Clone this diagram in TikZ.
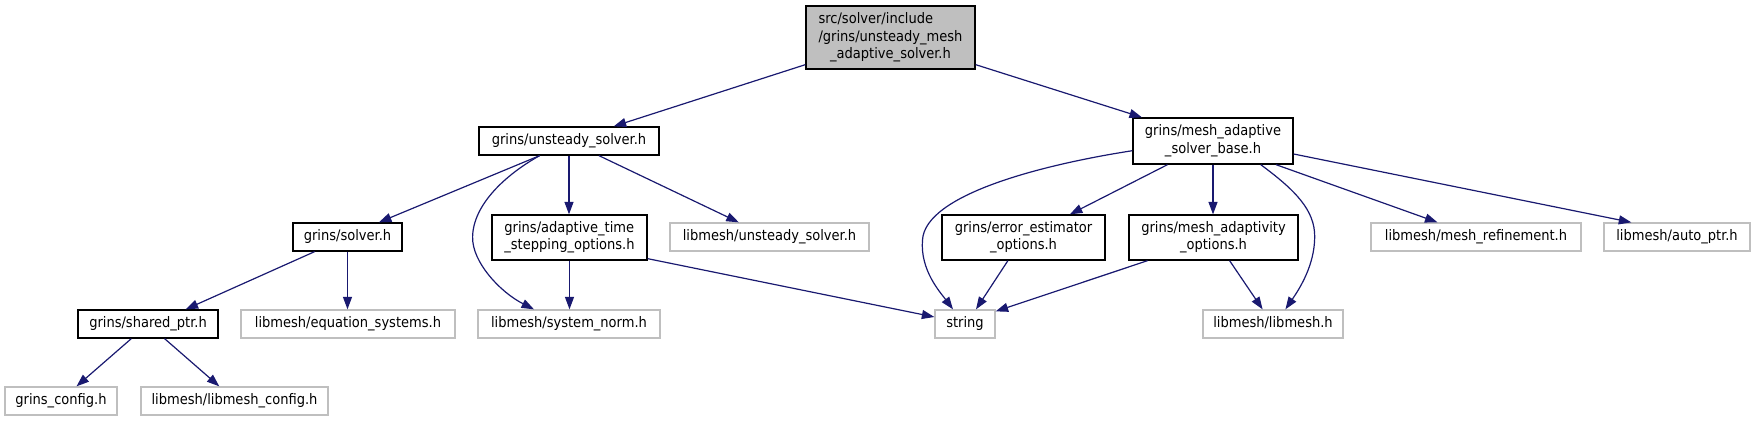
\documentclass[tikz,border=0pt]{standalone}
\usepackage{fontspec}
\setmainfont{DejaVu Sans Condensed}
\usetikzlibrary{arrows.meta,calc}
\definecolor{edgec}{RGB}{25,25,112}
\definecolor{extc}{RGB}{191,191,191}
\definecolor{topfill}{RGB}{191,191,191}
\newcommand\twol[2]{\begin{tabular}{@{}l@{}}#1\\\multicolumn{1}{@{}c@{}}{#2}\end{tabular}}
\begin{document}
\begin{tikzpicture}[x=1pt,y=-1pt,
  font=\fontsize{14.5}{17.5}\selectfont,
  base/.style={inner sep=0pt, line width=1.3pt, minimum height=28},
  grbox/.style={base, draw=black},
  extbox/.style={base, draw=extc},
  one/.style={text height=12.25pt, text depth=5.25pt},
  conn/.style={draw=edgec, line width=1.2pt, -{Triangle[length=12.5pt,width=9pt]}}
]
\useasboundingbox (0,0) rectangle (1756,421);

\node[grbox, fill=topfill, minimum width=169, minimum height=63] (top) at (890.5,37.5)
  {\begin{tabular}{@{}l@{}}src/solver/include\\/grins/unsteady\_mesh\\\multicolumn{1}{@{}c@{}}{\_adaptive\_solver.h}\end{tabular}};
\node[grbox, one, minimum width=180] (us) at (569,141) {grins/unsteady\_solver.h};
\node[grbox, minimum width=160, minimum height=46] (masb) at (1213,141) {\twol{grins/mesh\_adaptive}{\_solver\_base.h}};
\node[grbox, one, minimum width=109] (solver) at (347.5,237) {grins/solver.h};
\node[grbox, minimum width=155, minimum height=45] (ats) at (569.5,237.5) {\twol{grins/adaptive\_time}{\_stepping\_options.h}};
\node[extbox, one, minimum width=199] (lus) at (769.5,237) {libmesh/unsteady\_solver.h};
\node[grbox, minimum width=163, minimum height=45] (eeo) at (1023.5,237.5) {\twol{grins/error\_estimator}{\_options.h}};
\node[grbox, minimum width=169, minimum height=45] (mao) at (1213.5,237.5) {\twol{grins/mesh\_adaptivity}{\_options.h}};
\node[extbox, one, minimum width=210] (mr) at (1476,237) {libmesh/mesh\_refinement.h};
\node[extbox, one, minimum width=146] (ap) at (1677,237) {libmesh/auto\_ptr.h};
\node[grbox, one, minimum width=140] (sp) at (148,324) {grins/shared\_ptr.h};
\node[extbox, one, minimum width=214] (es) at (348,324) {libmesh/equation\_systems.h};
\node[extbox, one, minimum width=182] (sn) at (569,324) {libmesh/system\_norm.h};
\node[extbox, one, minimum width=60] (str) at (965,324) {string};
\node[extbox, one, minimum width=140] (lm) at (1273,324) {libmesh/libmesh.h};
\node[extbox, one, minimum width=112] (gc) at (61,401) {grins\_config.h};
\node[extbox, one, minimum width=187] (lmc) at (234.5,401) {libmesh/libmesh\_config.h};

% edges
\draw[conn] ($(top.south west)+(0,-5)$) -- ($(us.north)+(44.7,0)$);
\draw[conn] ($(top.south east)+(0,-5)$) -- ($(masb.north west)+(9.6,0)$);
\draw[conn] ($(us.south)+(-29.4,0)$) -- ($(solver.north)+(31.4,0)$);
\draw[conn] ($(us.south)+(-29.4,0)$) .. controls (505,175) and (473,205) .. (472.6,237)
  .. controls (472,262) and (500,292) .. ($(sn.north)+(-35,0)$);
\draw[conn] (us.south) -- (us.south |- ats.north);
\draw[conn] ($(us.south)+(30,0)$) -- ($(lus.north)+(-30.7,0)$);
\draw[conn] ($(solver.south)+(-32.9,0)$) -- ($(sp.north)+(37.6,0)$);
\draw[conn] (solver.south) -- (solver.south |- es.north);
\draw[conn] ($(sp.south)+(-16.7,0)$) -- ($(gc.north)+(15.5,0)$);
\draw[conn] ($(sp.south)+(16.6,0)$) -- ($(lmc.north)+(-15.2,0)$);
\draw[conn] (ats.south) -- (ats.south |- sn.north);
\draw[conn] ($(ats.south east)+(0,-2)$) -- ($(str.west)+(0,-7)$);
\draw[conn] ($(masb.west)+(0,9.7)$) .. controls (1040,165) and (925,195) .. (922.5,240)
  .. controls (920,270) and (940,292) .. ($(str.north)+(-12,0)$);
\draw[conn] ($(masb.south)+(-45.5,0)$) -- ($(eeo.north)+(46.4,0)$);
\draw[conn] (masb.south) -- (masb.south |- mao.north);
\draw[conn] ($(masb.south)+(47.7,0)$) .. controls (1295,190) and (1315,210) .. (1314.7,237)
  .. controls (1314.5,265) and (1300,288) .. ($(lm.north)+(12.4,0)$);
\draw[conn] ($(masb.south)+(63,0)$) -- ($(mr.north)+(-38.5,0)$);
\draw[conn] ($(masb.east)+(0,13)$) -- ($(ap.north)+(-45.7,0)$);
\draw[conn] ($(eeo.south)+(-15.6,0)$) -- ($(str.north)+(11,0)$);
\draw[conn] ($(mao.south)+(-65.9,0)$) -- ($(str.north east)+(0,2)$);
\draw[conn] ($(mao.south)+(16.1,0)$) -- ($(lm.north)+(-10.4,0)$);
\end{tikzpicture}
\end{document}
